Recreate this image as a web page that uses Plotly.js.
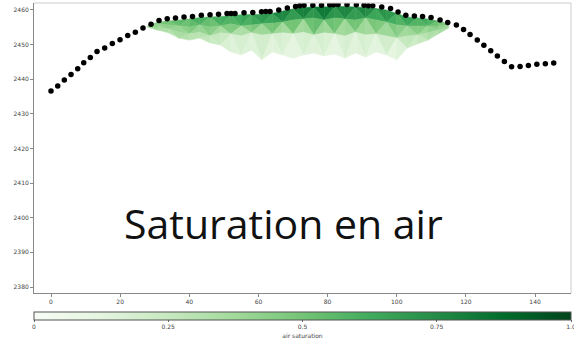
<!DOCTYPE html>
<html>
<head>
<meta charset="utf-8">
<script src="https://cdn.plot.ly/plotly-3.0.1.min.js"></script>
<style>
  html, body { margin: 0; padding: 0; background: #fff; }
  #chart { width: 574px; height: 338px; }
</style>
</head>
<body>
<div id="chart"></div>
<script>
// Profile points (position along the section, elevation)
const profileX = [0.0, 1.94, 3.85, 5.79, 7.72, 9.46, 11.37, 13.31, 15.53, 17.73,
  19.96, 22.19, 24.39, 26.61, 28.93, 31.24, 33.61, 36.01, 38.47, 40.93,
  43.48, 45.99, 48.45, 50.91, 52.07, 53.22, 55.83, 58.37, 60.89, 62.11,
  63.35, 65.87, 68.35, 70.73, 71.94, 73.18, 75.73, 78.25, 80.62, 81.72,
  83.02, 85.62, 88.31, 90.54, 91.78, 93.06, 95.66, 98.21, 100.38, 102.63,
  105.09, 107.46, 109.92, 112.53, 114.75, 117.24, 119.32, 121.20, 123.29, 125.20,
  127.19, 129.10, 131.13, 133.21, 135.67, 138.07, 140.52, 142.98, 145.40];
const profileY = [2436.6, 2438.05, 2439.8, 2441.4, 2443.0, 2444.8, 2446.3, 2448.0, 2449.0, 2450.3,
  2451.4, 2452.6, 2453.6, 2454.8, 2455.9, 2457.0, 2457.5, 2457.7, 2458.0, 2458.1,
  2458.5, 2458.6, 2458.8, 2459.0, 2459.0, 2459.0, 2459.2, 2459.3, 2459.5, 2459.6,
  2459.6, 2460.0, 2460.6, 2461.0, 2461.2, 2461.4, 2461.4, 2461.4, 2461.5, 2461.5,
  2461.6, 2461.6, 2461.5, 2461.4, 2461.2, 2461.2, 2460.9, 2460.4, 2459.4, 2458.5,
  2458.3, 2458.1, 2457.8, 2457.1, 2456.4, 2455.7, 2454.4, 2452.9, 2451.3, 2449.8,
  2448.2, 2446.7, 2445.1, 2443.6, 2443.7, 2444.0, 2444.3, 2444.5, 2444.7];

// Saturation mesh: columns along x, four rows of nodes from the surface downwards
const meshX = [28, 31, 34, 37, 40, 43, 46, 49, 52, 55, 58, 61, 64, 67, 70,
  73, 76, 79, 82, 85, 88, 91, 94, 97, 100, 103, 106, 109, 112, 115];
const meshY0 = [2455.4, 2456.5, 2456.8, 2457.1, 2457.4, 2457.8, 2458.0, 2458.1, 2458.4, 2458.6,
  2458.7, 2458.8, 2459.0, 2459.7, 2460.3, 2460.7, 2460.9, 2460.9, 2461.0, 2461.0,
  2460.9, 2460.7, 2460.4, 2460.0, 2459.0, 2458.0, 2457.7, 2457.4, 2456.8, 2456.0];
const meshY1 = [2455.2, 2456.0, 2455.7, 2455.4, 2455.1, 2455.7, 2455.1, 2455.4, 2456.0, 2455.4,
  2455.7, 2456.0, 2456.2, 2456.5, 2457.1, 2457.4, 2457.7, 2457.1, 2457.7, 2457.4,
  2457.1, 2457.7, 2457.1, 2456.5, 2455.7, 2455.4, 2455.4, 2455.4, 2455.4, 2455.7];
const meshY2 = [2455.1, 2455.1, 2454.5, 2453.6, 2453.1, 2453.6, 2452.5, 2453.4, 2453.1, 2452.5,
  2453.4, 2452.8, 2453.1, 2453.4, 2453.1, 2453.6, 2452.8, 2453.4, 2453.1, 2452.5,
  2453.6, 2452.8, 2453.1, 2452.5, 2451.9, 2452.5, 2452.8, 2453.4, 2454.2, 2455.1];
const meshY3 = [2455.1, 2454.2, 2453.4, 2451.9, 2451.3, 2451.9, 2450.5, 2449.9, 2447.9, 2447.0,
  2448.4, 2445.6, 2447.9, 2447.0, 2446.1, 2447.0, 2447.6, 2446.7, 2447.3, 2446.1,
  2447.6, 2446.4, 2447.9, 2447.0, 2445.6, 2449.0, 2450.2, 2451.3, 2453.1, 2454.8];
const meshS0 = [0.45, 0.55, 0.55, 0.6, 0.6, 0.65, 0.6, 0.7, 0.65, 0.7,
  0.75, 0.7, 0.8, 0.85, 0.8, 0.9, 0.85, 0.9, 0.85, 0.8,
  0.85, 0.8, 0.75, 0.8, 0.7, 0.75, 0.7, 0.65, 0.6, 0.5];
const meshS1 = [0.4, 0.45, 0.5, 0.45, 0.5, 0.55, 0.45, 0.5, 0.6, 0.5,
  0.55, 0.6, 0.55, 0.65, 0.6, 0.65, 0.6, 0.7, 0.6, 0.65,
  0.55, 0.65, 0.55, 0.6, 0.55, 0.5, 0.55, 0.5, 0.45, 0.4];
const meshS2 = [0.4, 0.4, 0.35, 0.4, 0.35, 0.3, 0.35, 0.25, 0.3, 0.2,
  0.3, 0.25, 0.3, 0.2, 0.25, 0.2, 0.3, 0.2, 0.25, 0.2,
  0.3, 0.2, 0.25, 0.3, 0.25, 0.35, 0.3, 0.35, 0.4, 0.4];
const meshS3 = [0.35, 0.35, 0.3, 0.3, 0.3, 0.25, 0.2, 0.15, 0.08, 0.06,
  0.1, 0.05, 0.08, 0.06, 0.05, 0.07, 0.08, 0.06, 0.06, 0.05,
  0.08, 0.06, 0.08, 0.07, 0.05, 0.15, 0.2, 0.25, 0.3, 0.35];

const xTicks = [0, 20, 40, 60, 80, 100, 120, 140];
const yTicks = [2380, 2390, 2400, 2410, 2420, 2430, 2440, 2450, 2460];
const cbTicks = [0, 0.25, 0.5, 0.75, 1];
const cbTickText = ['0', '0.25', '0.5', '0.75', '1.0'];

// Sequential green scale, 0 = dry, 1 = saturated
const greens = [
  [0.0, '#f7fcf5'], [0.125, '#e5f5e0'], [0.25, '#c7e9c0'], [0.375, '#a1d99b'],
  [0.5, '#74c476'], [0.625, '#41ab5d'], [0.75, '#238b45'], [0.875, '#006d2c'], [1.0, '#00441b']
];

function hexToRgb(h) {
  return [parseInt(h.slice(1, 3), 16), parseInt(h.slice(3, 5), 16), parseInt(h.slice(5, 7), 16)];
}
function colorAt(v) {
  v = Math.max(0, Math.min(1, v));
  for (let i = 1; i < greens.length; i++) {
    if (v <= greens[i][0]) {
      const [a, ca] = greens[i - 1];
      const [b, cb] = greens[i];
      const t = (v - a) / (b - a);
      const p = hexToRgb(ca), q = hexToRgb(cb);
      const c = p.map((pv, k) => Math.round(pv + (q[k] - pv) * t));
      return 'rgb(' + c.join(',') + ')';
    }
  }
  return greens[greens.length - 1][1];
}

const rowsY = [meshY0, meshY1, meshY2, meshY3];
const rowsS = [meshS0, meshS1, meshS2, meshS3];

const traces = [];
// Flat-shaded triangles between neighbouring mesh nodes
for (let r = 0; r < rowsY.length - 1; r++) {
  for (let c = 0; c < meshX.length - 1; c++) {
    const nodes = [
      [meshX[c], rowsY[r][c], rowsS[r][c]],
      [meshX[c + 1], rowsY[r][c + 1], rowsS[r][c + 1]],
      [meshX[c + 1], rowsY[r + 1][c + 1], rowsS[r + 1][c + 1]],
      [meshX[c], rowsY[r + 1][c], rowsS[r + 1][c]]
    ];
    const tris = ((r + c) % 2 === 0) ? [[0, 1, 2], [0, 2, 3]] : [[0, 1, 3], [1, 2, 3]];
    tris.forEach(t => {
      const s = (nodes[t[0]][2] + nodes[t[1]][2] + nodes[t[2]][2]) / 3;
      const col = colorAt(s);
      traces.push({
        type: 'scatter', mode: 'lines', hoverinfo: 'skip', showlegend: false,
        x: [nodes[t[0]][0], nodes[t[1]][0], nodes[t[2]][0], nodes[t[0]][0]],
        y: [nodes[t[0]][1], nodes[t[1]][1], nodes[t[2]][1], nodes[t[0]][1]],
        fill: 'toself', fillcolor: col,
        line: { color: col, width: 0.5 }
      });
    });
  }
}

// Profile markers
traces.push({
  type: 'scatter', mode: 'markers', showlegend: false,
  x: profileX, y: profileY,
  marker: { color: '#000', size: 5.5 }
});

const smallFont = { family: 'DejaVu Sans', size: 6, color: '#444' };

// Carrier for the colour bar
traces.push({
  type: 'scatter', mode: 'markers', showlegend: false, hoverinfo: 'skip',
  x: [-50], y: [2300],
  marker: {
    color: [0.5], cmin: 0, cmax: 1, colorscale: greens, showscale: true, size: 1,
    colorbar: {
      orientation: 'h', thickness: 8, thicknessmode: 'pixels',
      len: 1, lenmode: 'fraction', x: 0.5, xanchor: 'center',
      y: -0.0655, yanchor: 'top', xpad: 0, ypad: 0,
      outlinecolor: '#555', outlinewidth: 1,
      tickvals: cbTicks, ticktext: cbTickText, ticklabeloverflow: 'allow',
      ticks: 'outside', ticklen: 2, tickcolor: '#666',
      tickfont: smallFont,
      title: { text: 'air saturation', side: 'bottom', font: smallFont }
    }
  }
});

const layout = {
  width: 574, height: 338,
  margin: { l: 34, r: 3, t: 3, b: 45, autoexpand: false },
  paper_bgcolor: '#fff', plot_bgcolor: '#fff',
  showlegend: false,
  xaxis: {
    range: [-4.92, 150.4], tickvals: xTicks, ticks: 'outside', ticklen: 3, tickcolor: '#888',
    showline: true, linecolor: '#888', linewidth: 1, showgrid: false, zeroline: false,
    tickfont: smallFont, automargin: false
  },
  yaxis: {
    range: [2378.27, 2462.02], tickvals: yTicks, ticks: 'outside', ticklen: 3, tickcolor: '#888',
    showline: true, linecolor: '#888', linewidth: 1, showgrid: false, zeroline: false,
    tickfont: smallFont, automargin: false
  },
  shapes: [
    { type: 'line', xref: 'paper', yref: 'paper', x0: 0, x1: 1, y0: 1, y1: 1, line: { color: '#ccc', width: 1 } },
    { type: 'line', xref: 'paper', yref: 'paper', x0: 1, x1: 1, y0: 0, y1: 1, line: { color: '#ccc', width: 1 } }
  ],
  annotations: [{
    text: 'Saturation en air', xref: 'paper', yref: 'paper', x: 0.4646, y: 0.24,
    xanchor: 'center', yanchor: 'middle', showarrow: false,
    font: { family: 'Open Sans', size: 41, color: '#111' }
  }]
};

Plotly.newPlot('chart', traces, layout, { staticPlot: true, displayModeBar: false });
</script>
</body>
</html>
